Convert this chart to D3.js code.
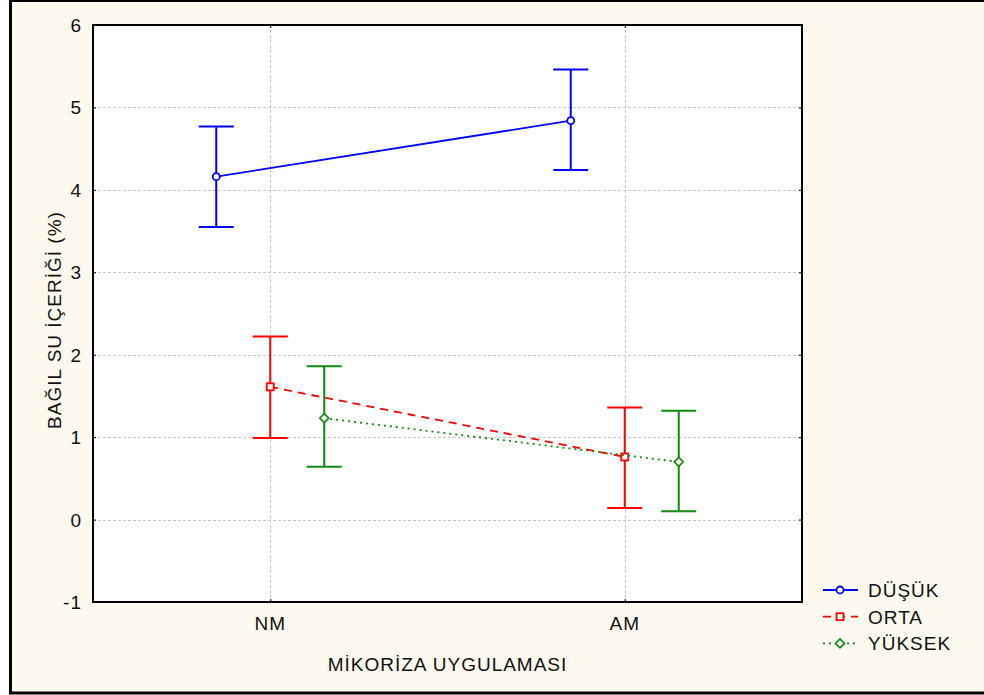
<!DOCTYPE html>
<html lang="tr">
<head>
<meta charset="UTF-8">
<title>Bağıl su içeriği</title>
<script src="https://cdnjs.cloudflare.com/ajax/libs/d3/7.8.5/d3.min.js"></script>
<style>
    body { margin: 0; background: #fff; }
    svg { display: block; }
    text { font-family: Arial, "Liberation Sans", sans-serif; font-size: 19px; letter-spacing: 1px; fill: #111; }
</style>
</head>
<body>
<svg id="chart" width="984" height="695"></svg>
<script>
    // data
    const categories = ['NM', 'AM'];
    const groups = ['DÜŞÜK', 'ORTA', 'YÜKSEK'];
    const meanDusuk = [4.16, 4.84];
    const meanOrta = [1.61, 0.76];
    const meanYuksek = [1.23, 0.70];
    const lowDusuk = [3.55, 4.24];
    const lowOrta = [0.99, 0.14];
    const lowYuksek = [0.64, 0.10];
    const highDusuk = [4.77, 5.46];
    const highOrta = [2.22, 1.36];
    const highYuksek = [1.86, 1.32];
    const yTicks = [-1, 0, 1, 2, 3, 4, 5, 6];

    const styles = {
        'DÜŞÜK': { color: '#0000ff', dash: null, marker: 'circle' },
        'ORTA': { color: '#ff0000', dash: '8,6', marker: 'square' },
        'YÜKSEK': { color: '#108a10', dash: '2,4', marker: 'diamond' }
    };

    const series = [
        { name: 'DÜŞÜK', mean: meanDusuk, low: lowDusuk, high: highDusuk },
        { name: 'ORTA', mean: meanOrta, low: lowOrta, high: highOrta },
        { name: 'YÜKSEK', mean: meanYuksek, low: lowYuksek, high: highYuksek }
    ];

    const svg = d3.select('#chart');
    const plot = { left: 93, right: 802, top: 25, bottom: 602 };

    // outer frame
    svg.append('rect')
        .attr('x', 10.5).attr('y', 0.5)
        .attr('width', 1000).attr('height', 692.5)
        .attr('fill', '#fdf9ee')
        .attr('stroke', '#000').attr('stroke-width', 3);

    svg.append('rect')
        .attr('x', plot.left).attr('y', plot.top)
        .attr('width', plot.right - plot.left).attr('height', plot.bottom - plot.top)
        .attr('fill', '#fff');

    const x = d3.scalePoint().domain(categories).range([plot.left, plot.right]).padding(0.5);
    const offset = d3.scalePoint().domain(groups).range([-54, 54]);
    const y = d3.scaleLinear().domain([-1, 6]).range([plot.bottom, plot.top]);

    // grid
    const grid = svg.append('g').attr('stroke', '#c8c8c8').attr('stroke-width', 1).attr('stroke-dasharray', '3,2');
    grid.selectAll('line.h').data(yTicks.slice(1, -1)).enter().append('line')
        .attr('x1', plot.left).attr('x2', plot.right)
        .attr('y1', d => Math.round(y(d)) + 0.5).attr('y2', d => Math.round(y(d)) + 0.5);
    grid.selectAll('line.v').data(categories).enter().append('line')
        .attr('x1', d => Math.round(x(d)) + 0.5).attr('x2', d => Math.round(x(d)) + 0.5)
        .attr('y1', plot.top).attr('y2', plot.bottom);

    // axes, inward ticks on all sides
    svg.append('g').attr('transform', `translate(${plot.left},0)`)
        .call(d3.axisRight(y).tickValues(yTicks).tickSize(3).tickFormat(''))
        .call(g => g.select('.domain').remove());
    svg.append('g').attr('transform', `translate(${plot.right},0)`)
        .call(d3.axisLeft(y).tickValues(yTicks).tickSize(3).tickFormat(''))
        .call(g => g.select('.domain').remove());
    svg.append('g').attr('transform', `translate(0,${plot.top})`)
        .call(d3.axisBottom(x).tickSize(3).tickFormat(''))
        .call(g => g.select('.domain').remove());
    svg.append('g').attr('transform', `translate(0,${plot.bottom})`)
        .call(d3.axisTop(x).tickSize(3).tickFormat(''))
        .call(g => g.select('.domain').remove());

    svg.append('rect')
        .attr('x', plot.left).attr('y', plot.top)
        .attr('width', plot.right - plot.left).attr('height', plot.bottom - plot.top)
        .attr('fill', 'none').attr('stroke', '#000').attr('stroke-width', 2);

    // tick labels
    svg.append('g').selectAll('text').data(yTicks).enter().append('text')
        .attr('x', plot.left - 11).attr('y', d => y(d) + 7)
        .attr('text-anchor', 'end')
        .text(d => d);
    svg.append('g').selectAll('text').data(categories).enter().append('text')
        .attr('x', d => x(d)).attr('y', 630)
        .attr('text-anchor', 'middle')
        .text(d => d);

    // axis titles
    svg.append('text')
        .attr('x', (plot.left + plot.right) / 2).attr('y', 671)
        .attr('text-anchor', 'middle')
        .text('MİKORİZA UYGULAMASI');
    svg.append('text')
        .attr('transform', 'translate(61,320) rotate(-90)')
        .attr('text-anchor', 'middle')
        .text('BAĞIL SU İÇERİĞİ (%)');

    function drawMarker(g, type, color, cx, cy) {
        if (type === 'circle') {
            g.append('circle').attr('cx', cx).attr('cy', cy).attr('r', 3.5)
                .attr('fill', '#fff').attr('stroke', color).attr('stroke-width', 1.8);
        } else if (type === 'square') {
            g.append('rect').attr('x', cx - 3.5).attr('y', cy - 3.5).attr('width', 7).attr('height', 7)
                .attr('fill', '#fff').attr('stroke', color).attr('stroke-width', 1.8);
        } else {
            g.append('path').attr('d', `M${cx},${cy - 4.5}L${cx + 4.5},${cy}L${cx},${cy + 4.5}L${cx - 4.5},${cy}Z`)
                .attr('fill', '#fff').attr('stroke', color).attr('stroke-width', 1.6);
        }
    }

    const line = d3.line();

    series.forEach(s => {
        const st = styles[s.name];
        const g = svg.append('g');
        const px = categories.map(c => x(c) + offset(s.name));

        g.append('path')
            .attr('d', line(px.map((xx, i) => [xx, y(s.mean[i])])))
            .attr('fill', 'none').attr('stroke', st.color).attr('stroke-width', 1.8)
            .attr('stroke-dasharray', st.dash);

        px.forEach((xx, i) => {
            const eb = g.append('g').attr('stroke', st.color).attr('stroke-width', 2);
            eb.append('line').attr('x1', xx).attr('x2', xx).attr('y1', y(s.low[i])).attr('y2', y(s.high[i]));
            eb.append('line').attr('x1', xx - 17.5).attr('x2', xx + 17.5).attr('y1', y(s.low[i])).attr('y2', y(s.low[i]));
            eb.append('line').attr('x1', xx - 17.5).attr('x2', xx + 17.5).attr('y1', y(s.high[i])).attr('y2', y(s.high[i]));
            drawMarker(g, st.marker, st.color, xx, y(s.mean[i]));
        });
    });

    // legend
    const legend = svg.append('g');
    groups.forEach((name, i) => {
        const st = styles[name];
        const cy = 590 + i * 26.7;
        legend.append('line')
            .attr('x1', 823).attr('x2', 858).attr('y1', cy).attr('y2', cy)
            .attr('stroke', st.color).attr('stroke-width', 1.8)
            .attr('stroke-dasharray', st.dash);
        drawMarker(legend, st.marker, st.color, 840, cy);
        legend.append('text').attr('x', 868).attr('y', cy + 7).text(name);
    });
</script>
</body>
</html>
